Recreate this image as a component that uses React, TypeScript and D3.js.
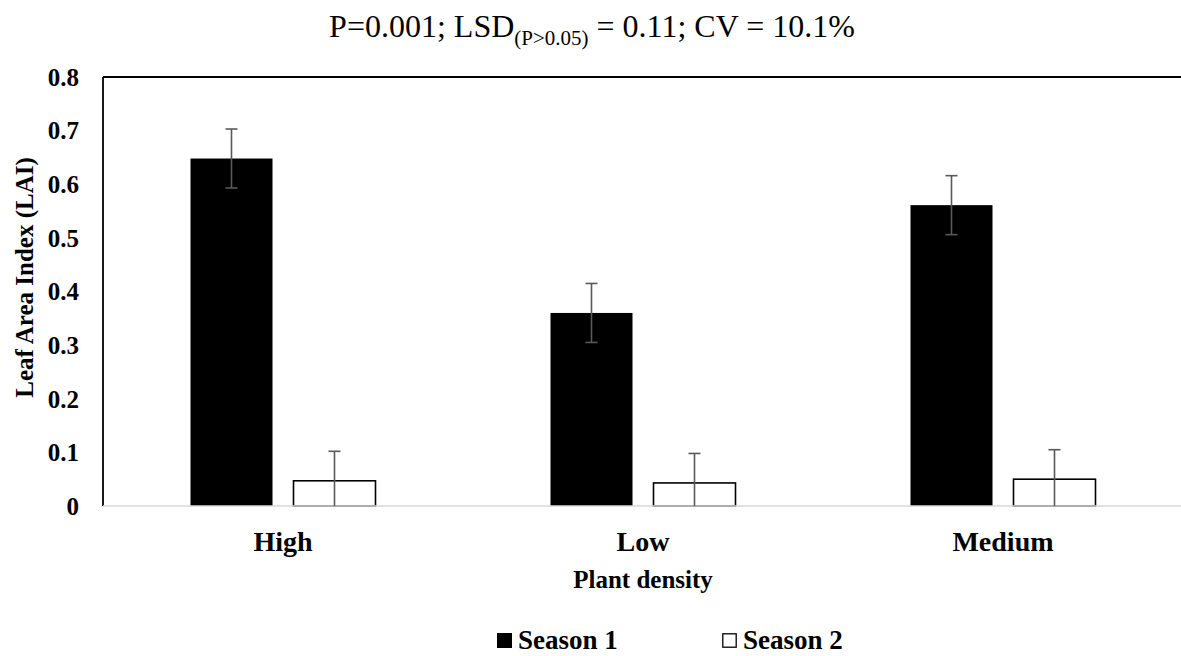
import React from "react";
import * as d3 from "d3";

const categories = ["High", "Low", "Medium"];
const seriesNames = ["Season 1", "Season 2"];
const season1 = [0.648, 0.36, 0.561];
const season2 = [0.047, 0.043, 0.05];
const season1Err = [0.055, 0.055, 0.055];
const season2Err = [0.055, 0.055, 0.055];
const yTicks = [0, 0.1, 0.2, 0.3, 0.4, 0.5, 0.6, 0.7, 0.8];

const W = 1181;
const H = 656;
const plot = { left: 103, right: 1183, top: 77, bottom: 506 };
const FONT = "'Liberation Serif', 'Times New Roman', serif";

export default function App() {
  const x = d3.scaleBand<string>().domain(categories).range([plot.left, plot.right]).paddingInner(0).paddingOuter(0);
  const xs = d3
    .scaleBand<string>()
    .domain(seriesNames)
    .range([0, x.bandwidth()])
    .paddingInner(21 / 103)
    .paddingOuter(0.8495);
  const y = d3.scaleLinear().domain([0, 0.8]).range([plot.bottom, plot.top]);

  const series = [
    { name: seriesNames[0], values: season1, errs: season1Err, fill: "#000000", stroke: "#000000" },
    { name: seriesNames[1], values: season2, errs: season2Err, fill: "#ffffff", stroke: "#000000" },
  ];

  return (
    <div style={{ position: "absolute", left: 0, top: 0 }}>
      <svg width={W} height={H} style={{ display: "block", background: "#fff" }} fontFamily={FONT}>
        {/* title */}
        <text x={592} y={37} textAnchor="middle" fontSize={32} fill="#000">
          <tspan>P=0.001; LSD</tspan>
          <tspan fontSize={21} dy={8}>(P&gt;0.05)</tspan>
          <tspan dy={-8}> = 0.11; CV = 10.1%</tspan>
        </text>

        {/* plot frame */}
        <line x1={plot.left} x2={plot.right} y1={plot.top} y2={plot.top} stroke="#000" strokeWidth={1.8} />
        <line x1={plot.left} x2={plot.left} y1={plot.top} y2={plot.bottom} stroke="#000" strokeWidth={1.8} />

        {/* bars */}
        {series.map((s) =>
          categories.map((c, i) => {
            const bx = (x(c) ?? 0) + (xs(s.name) ?? 0);
            const bw = xs.bandwidth();
            const yTop = y(s.values[i]);
            return (
              <rect
                key={s.name + c}
                x={bx}
                y={yTop}
                width={bw}
                height={y(0) - yTop}
                fill={s.fill}
                stroke={s.stroke}
                strokeWidth={s.fill === "#ffffff" ? 1.6 : 0}
              />
            );
          })
        )}

        {/* x axis line */}
        <line x1={plot.left} x2={plot.right} y1={plot.bottom} y2={plot.bottom} stroke="#d9d9d9" strokeWidth={1.5} />

        {/* error bars */}
        {series.map((s) =>
          categories.map((c, i) => {
            const cx = (x(c) ?? 0) + (xs(s.name) ?? 0) + xs.bandwidth() / 2;
            const hi = y(s.values[i] + s.errs[i]);
            const lo = y(Math.max(0, s.values[i] - s.errs[i]));
            return (
              <g key={"e" + s.name + c} stroke="#595959" strokeWidth={1.6}>
                <line x1={cx} x2={cx} y1={hi} y2={lo} />
                <line x1={cx - 6} x2={cx + 6} y1={hi} y2={hi} />
                {s.values[i] - s.errs[i] > 0 && <line x1={cx - 6} x2={cx + 6} y1={lo} y2={lo} />}
              </g>
            );
          })
        )}

        {/* y tick labels */}
        {yTicks.map((t) => (
          <text
            key={t}
            x={79}
            y={y(t)}
            dy="0.35em"
            textAnchor="end"
            fontSize={25}
            fontWeight="bold"
            fill="#000"
          >
            {t === 0 ? "0" : d3.format(".1f")(t)}
          </text>
        ))}

        {/* x tick labels */}
        {categories.map((c) => (
          <text
            key={c}
            x={(x(c) ?? 0) + x.bandwidth() / 2}
            y={551}
            textAnchor="middle"
            fontSize={28}
            fontWeight="bold"
            fill="#000"
          >
            {c}
          </text>
        ))}

        {/* axis titles */}
        <text x={643} y={588} textAnchor="middle" fontSize={25} fontWeight="bold" fill="#000">
          Plant density
        </text>
        <text
          transform={`translate(33, ${(plot.top + plot.bottom) / 2 - 14}) rotate(-90)`}
          textAnchor="middle"
          fontSize={25}
          fontWeight="bold"
          fill="#000"
        >
          Leaf Area Index (LAI)
        </text>

        {/* legend */}
        {series.map((s, i) => {
          const lx = 497 + i * 225;
          return (
            <g key={"l" + s.name}>
              <rect
                x={lx + (i === 1 ? 0.8 : 0)}
                y={633 + (i === 1 ? 0.8 : 0)}
                width={i === 1 ? 13.4 : 15}
                height={i === 1 ? 13.4 : 15}
                fill={s.fill}
                stroke="#000"
                strokeWidth={i === 1 ? 1.3 : 0}
              />
              <text x={lx + 21} y={649} fontSize={27} fontWeight="bold" fill="#000">
                {s.name}
              </text>
            </g>
          );
        })}
      </svg>
    </div>
  );
}
